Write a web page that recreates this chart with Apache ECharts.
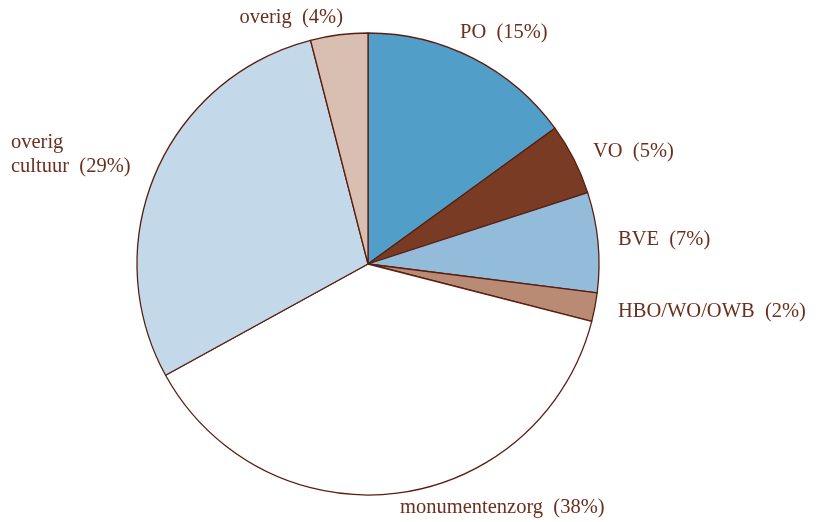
<!DOCTYPE html>
<html>
<head>
<meta charset="utf-8">
<script src="https://cdn.jsdelivr.net/npm/echarts@6/dist/echarts.min.js"></script>
<style>
  html, body { margin: 0; padding: 0; background: #fff; }
  #chart-container { width: 824px; height: 522px; }
</style>
</head>
<body>
<div id="chart-container"></div>
<script>
var categories = ['PO', 'VO', 'BVE', 'HBO/WO/OWB', 'monumentenzorg', 'overig\ncultuur', 'overig'];
var values = [15, 5, 7, 2, 38, 29, 4];
var colors = ['#519ec8', '#793b23', '#93bcdb', '#b98b74', '#ffffff', '#c3d9ea', '#d9bfb2'];

// label anchors (left/right edge, vertical middle)
var labelPos = [
  [460, 33, 'left'],
  [593, 152, 'left'],
  [618, 240, 'left'],
  [618, 312, 'left'],
  [400, 508, 'left'],
  [11, 155, 'left'],
  [343, 18, 'right']
];

var dom = document.getElementById('chart-container');
var myChart = echarts.init(dom, null, { renderer: 'canvas' });

var option = {
  animation: false,
  backgroundColor: '#ffffff',
  series: [{
    type: 'pie',
    center: [368, 264],
    radius: 231,
    startAngle: 90,
    clockwise: true,
    data: categories.map(function (c, i) {
      return { name: c, value: values[i], itemStyle: { color: colors[i] } };
    }),
    itemStyle: { borderColor: '#5a1e10', borderWidth: 1.3 },
    label: {
      show: true,
      position: 'outside',
      formatter: '{b}\u2002({d}%)',
      color: '#6b2f1f',
      fontFamily: 'Liberation Serif',
      fontSize: 20.5,
      lineHeight: 24,
      overflow: 'none',
      width: 300
    },
    labelLine: { show: false },
    labelLayout: function (params) {
      var p = labelPos[params.dataIndex];
      return { x: p[0], y: p[1], align: p[2], verticalAlign: 'middle', hideOverlap: false };
    },
    emphasis: { disabled: true }
  }]
};
myChart.setOption(option);
window.addEventListener('resize', myChart.resize);
</script>
</body>
</html>
